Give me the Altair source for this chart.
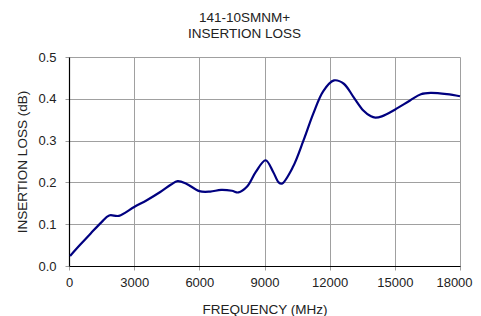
import altair as alt
import pandas as pd

freq = [50, 500, 1000, 1500, 1850, 2300, 3000, 3600, 4200, 4700, 5000, 5400,
        6000, 6500, 7000, 7500, 7800, 8200, 8600, 9050, 9400, 9650, 9800,
        10300, 10800, 11250, 11700, 12200, 12650, 13100, 13550, 13900,
        14100, 14400, 15000, 15700, 16200, 16650, 17400, 18000]
loss = [0.024, 0.05, 0.078, 0.105, 0.121, 0.12, 0.141, 0.158, 0.177, 0.195, 0.203, 0.197,
        0.179, 0.178, 0.182, 0.18, 0.176, 0.19, 0.225, 0.253, 0.225, 0.2, 0.197,
        0.236, 0.301, 0.365, 0.418, 0.444, 0.436, 0.404, 0.372, 0.358,
        0.355, 0.358, 0.374, 0.396, 0.411, 0.414, 0.411, 0.406]

x_ticks = [0, 3000, 6000, 9000, 12000, 15000, 18000]
y_ticks = [0.0, 0.1, 0.2, 0.3, 0.4, 0.5]

df = pd.DataFrame({"freq": freq, "loss": loss})

FONT = "Liberation Sans"

chart = alt.Chart(df).mark_line(
    color="#000080", strokeWidth=2.2, interpolate="catmull-rom"
).encode(
    x=alt.X("freq:Q", scale=alt.Scale(domain=[0, 18000], nice=False),
            axis=alt.Axis(values=x_ticks, title="FREQUENCY (MHz)", format="d",
                          labelFlush=False,
                          labelOffset=alt.condition("datum.value == 18000",
                                                    alt.value(-6), alt.value(0)))),
    y=alt.Y("loss:Q", scale=alt.Scale(domain=[0, 0.5], nice=False),
            axis=alt.Axis(values=y_ticks, title="INSERTION LOSS (dB)", format=".1f")),
).properties(
    width=391, height=209,
    autosize=alt.AutoSizeParams(type="none"),
    padding={"left": 61, "top": 49, "right": 13, "bottom": 60},
    title=alt.TitleParams(text=["141-10SMNM+", "INSERTION LOSS"], fontSize=13.5,
                          font=FONT, fontWeight="normal", color="#222222",
                          anchor="middle", dx=-20, offset=11, lineHeight=16),
).configure_view(stroke=None).configure_axis(
    labelFont=FONT, titleFont=FONT, labelFontSize=13, titleFontSize=13.5,
    titleFontWeight="normal", labelColor="#222222", titleColor="#222222",
    domainColor="#000000", domainWidth=1.2, gridColor="#a0a0a0", gridWidth=1,
    tickColor="#a0a0a0", tickSize=4,
).configure_axisX(
    labelPadding=6, titlePadding=13,
).configure_axisY(
    labelPadding=9, titlePadding=8,
)

chart.save("out.html", embed_options={"renderer": "svg", "actions": False})
